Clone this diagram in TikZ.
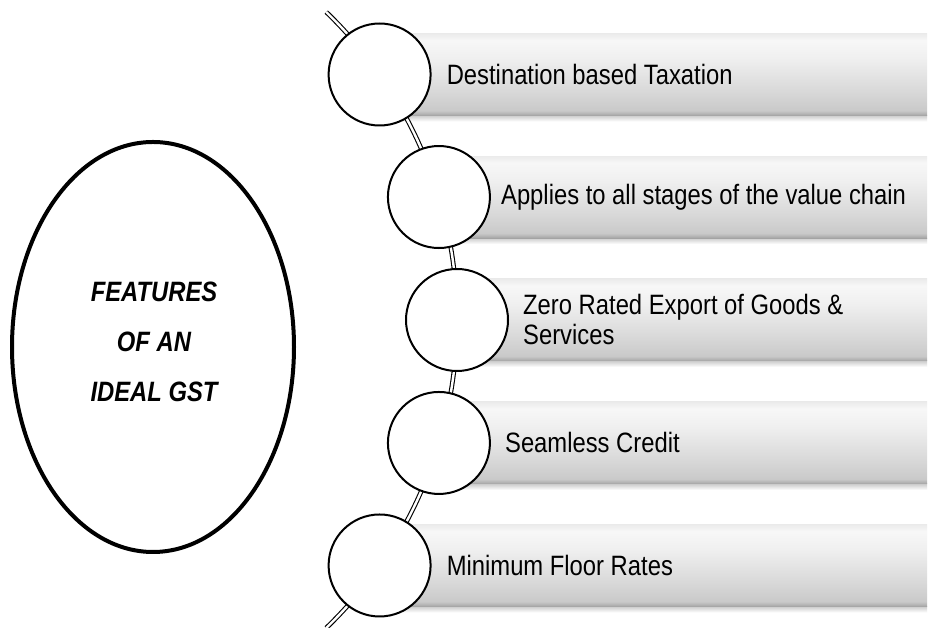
\documentclass[tikz,border=0pt]{standalone}
\usepackage{fontspec}
\setmainfont{Liberation Sans}[FakeStretch=0.85]
\usetikzlibrary{shapes.geometric,calc}
\pgfdeclareverticalshading{barshade}{100bp}{color(0bp)=(black!36); color(25bp)=(black!36); color(26.5bp)=(black!28); color(28bp)=(black!21); color(40bp)=(black!15); color(60bp)=(black!6); color(71bp)=(black!3); color(75bp)=(black!8); color(100bp)=(black!8)}
\begin{document}
\begin{tikzpicture}[x=1pt,y=1pt,
  bullet/.style={circle, draw=black, line width=2pt, fill=white, minimum size=102pt, inner sep=0pt},
  lbl/.style={anchor=west, font=\fontsize{28}{30}\selectfont, align=left, inner sep=0pt},
  rail/.style={draw=black, line width=1.1pt, double=white, double distance=2.4pt},
  barfill/.style={shading=barshade},
  barshadow/.style={top color=black!20, bottom color=white},
  title/.style={ellipse, draw=black, line width=4pt, minimum width=282pt, minimum height=410pt, inner sep=0pt},
  titletext/.style={font=\fontsize{28}{50}\selectfont\bfseries\itshape, align=center, inner sep=0pt}]
\useasboundingbox (0,0) rectangle (929,628);
\fill[white] (0,0) rectangle (929,628);
% bar centres on the arc
\coordinate (arcC) at (29,308);
\foreach \a/\k in {35/1,16.7/2,0/3,-16.7/4,-35/5}{
  \path (arcC) ++(\a:428) coordinate (p\k);
}
% bars
\foreach \k in {1,...,5}{
  \path let \p1=(p\k) in (\x1,\y1-41) coordinate (bl\k) (927,\y1+41) coordinate (tr\k)
        (\x1,\y1-47) coordinate (sl\k) (927,\y1-41) coordinate (sr\k);
  \shade[barshadow] (sl\k) rectangle (sr\k);
  \shade[barfill] (bl\k) rectangle (tr\k);
}
% rail
\draw[rail] (arcC) ++(46:428) coordinate (railtop) arc[start angle=46, end angle=-46, radius=428] coordinate (railbot);
% circles
\foreach \k in {1,...,5}{
  \node[bullet] (c\k) at (p\k) {};
}
% labels
\node[lbl] (t1) at ([xshift=67pt]p1) {Destination based Taxation};
\node[lbl] (t2) at ([xshift=62pt]p2) {Applies to all stages of the value chain};
\node[lbl] (t3) at ([xshift=66pt]p3) {Zero Rated Export of Goods \&\\Services};
\node[lbl] (t4) at ([xshift=66pt]p4) {Seamless Credit};
\node[lbl] (t5) at ([xshift=67pt]p5) {Minimum Floor Rates};
% title ellipse
\node[title] (ttl) at (153,281) {};
\node[titletext] (ttltext) at (154,286) {FEATURES\\OF AN\\IDEAL GST};
\end{tikzpicture}
\end{document}
